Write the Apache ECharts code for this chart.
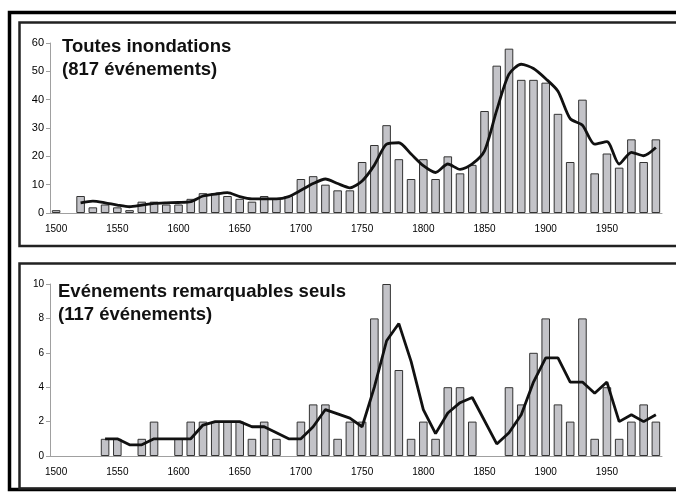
<!DOCTYPE html>
<html>
<head>
<meta charset="utf-8">
<script src="https://cdn.jsdelivr.net/npm/echarts@6/dist/echarts.min.js"></script>
<style>
  html, body { margin: 0; padding: 0; background: #fff; }
  #chart { width: 676px; height: 493px; }
</style>
</head>
<body>
<div id="chart"></div>
<script>
// decades 1500 .. 1990
const decades = []
for (let y = 1500; y <= 1990; y += 10) decades.push(String(y))

// all floods per decade (817 events)
const allFloods = [1, 0, 6, 2, 3, 2, 1, 4, 4, 3,
  3, 5, 7, 7, 6, 5, 4, 6, 5, 6,
  12, 13, 10, 8, 8, 18, 24, 31, 19, 12,
  19, 12, 20, 14, 17, 36, 52, 58, 47, 47,
  46, 35, 18, 40, 14, 21, 16, 26, 18, 26]

// smoothed curve, all floods
const allSmooth = [null, null, 3.6, 4.2, 3.6, 2.8, 2.2, 2.8, 3.4, 3.6,
  3.7, 4, 6, 6.7, 7.2, 5.8, 5, 5, 5, 5.8,
  8, 10.4, 12, 10.4, 8.9, 11.3, 16.9, 24.3, 24.8, 20.8,
  16.7, 14.3, 17.3, 15.4, 17.3, 21.9, 36.3, 49, 52.5, 51,
  47.4, 43, 33.3, 31, 24.3, 25.2, 17.3, 21.4, 20.2, 23.1]

// remarkable events only (117 events)
const remarkable = [0, 0, 0, 0, 1, 1, 0, 1, 2, 0,
  1, 2, 2, 2, 2, 2, 1, 2, 1, 0,
  2, 3, 3, 1, 2, 2, 8, 10, 5, 1,
  2, 1, 4, 4, 2, 0, 0, 4, 3, 6,
  8, 3, 2, 8, 1, 4, 1, 2, 3, 2]

const remarkableSmooth = [null, null, null, null, 1, 1, 0.65, 0.65, 1, 1,
  1, 1, 1.8, 2, 2, 2, 1.7, 1.7, 1.35, 1,
  1, 1.7, 2.7, 2.45, 2.2, 1.7, 4, 6.7, 7.7, 5.5,
  2.7, 1.3, 2.5, 3.1, 3.4, null, 0.7, 1.35, 2.4, 4.3,
  5.7, 5.7, 4.3, 4.3, 3.65, 4.3, 2, 2.4, 2, 2.4]

const titles = ['Toutes inondations\n(817 événements)', 'Evénements remarquables seuls\n(117 événements)']

const FONT = '"Liberation Sans", Arial, sans-serif'
const axisGray = '#a0a0a0'

// empty decades get no bar at all
const noZero = (arr) => arr.map((v) => (v === 0 ? null : v))

function xAxisFor(gridIndex) {
  return {
    type: 'category',
    gridIndex: gridIndex,
    data: decades,
    axisLine: { lineStyle: { color: axisGray, width: 1 } },
    axisTick: { interval: 0, length: 4, lineStyle: { color: axisGray } },
    axisLabel: {
      interval: 4, margin: 11, color: '#000', fontSize: 10, fontFamily: FONT,
    },
  }
}

function yAxisFor(gridIndex, max, interval, fontSize) {
  return {
    type: 'value',
    gridIndex: gridIndex,
    min: 0,
    max: max,
    interval: interval,
    splitLine: { show: false },
    axisLine: { show: true, lineStyle: { color: axisGray, width: 1 } },
    axisTick: { show: true, length: 4, lineStyle: { color: axisGray } },
    axisLabel: { color: '#000', fontSize: fontSize, fontFamily: FONT, margin: 6 },
  }
}

const barStyle = { color: '#c3c3c8', borderColor: '#333', borderWidth: 1 }
const lineStyle = { color: '#111', width: 2.8 }
const titleStyle = { fontSize: 18.5, fontWeight: 'bold', color: '#111', lineHeight: 23.5, fontFamily: FONT }

const chart = echarts.init(document.getElementById('chart'), null, { renderer: 'canvas' })
chart.setOption({
  backgroundColor: '#fff',
  animation: false,
  title: [
    { text: titles[0], left: 62, top: 35, padding: 0, textStyle: titleStyle },
    { text: titles[1], left: 58, top: 280, padding: 0, textStyle: titleStyle },
  ],
  grid: [
    { left: 50, top: 43, width: 612, height: 170 },
    { left: 50, top: 284, width: 612, height: 172 },
  ],
  xAxis: [xAxisFor(0), xAxisFor(1)],
  yAxis: [yAxisFor(0, 60, 10, 11), yAxisFor(1, 10, 2, 10)],
  series: [
    {
      type: 'bar', xAxisIndex: 0, yAxisIndex: 0, data: noZero(allFloods),
      barCategoryGap: '30%', itemStyle: barStyle,
    },
    {
      type: 'line', xAxisIndex: 0, yAxisIndex: 0, data: allSmooth,
      smooth: 0.25, showSymbol: false, lineStyle: lineStyle,
    },
    {
      type: 'bar', xAxisIndex: 1, yAxisIndex: 1, data: noZero(remarkable),
      barCategoryGap: '30%', itemStyle: barStyle,
    },
    {
      type: 'line', xAxisIndex: 1, yAxisIndex: 1, data: remarkableSmooth,
      connectNulls: true, showSymbol: false, lineStyle: lineStyle,
    },
  ],
  // frames around the figure and the two panels
  graphic: [
    {
      type: 'rect', silent: true,
      shape: { x: 9.5, y: 12.5, width: 700, height: 477 },
      style: { fill: 'none', stroke: '#000', lineWidth: 3.5 },
    },
    {
      type: 'rect', silent: true,
      shape: { x: 19.5, y: 22.5, width: 700, height: 223.5 },
      style: { fill: 'none', stroke: '#222', lineWidth: 2.5 },
    },
    {
      type: 'rect', silent: true,
      shape: { x: 19.5, y: 263.5, width: 700, height: 225 },
      style: { fill: 'none', stroke: '#222', lineWidth: 2.5 },
    },
  ],
})
</script>
</body>
</html>
